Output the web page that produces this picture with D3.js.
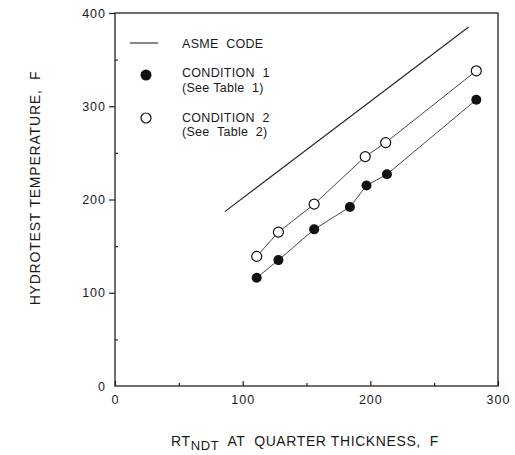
<!DOCTYPE html>
<html>
<head>
<meta charset="utf-8">
<script src="https://cdn.jsdelivr.net/npm/d3@7"></script>
<style>
  body { margin: 0; background: #fff; }
  text { font-family: "Liberation Sans", Arial, sans-serif; fill: #1a1a1a; white-space: pre; }
</style>
</head>
<body>
<svg id="canvas" width="515" height="455"></svg>
<script>
/********** Data **********/
var xTicks = [0, 100, 200, 300];
var yTicks = [0, 100, 200, 300, 400];
var xMinor = [50, 150, 250];
var yMinor = [50, 150, 250, 350];

var asmeX = [86, 277];
var asmeY = [187, 385];

var cond1X = [111, 128, 156, 184, 197, 213, 283];
var cond1Y = [116, 135, 168, 192, 215, 227, 307];

var cond2X = [111, 128, 156, 196, 212, 283];
var cond2Y = [139, 165, 195, 246, 261, 338];

var legendLabels = ["ASME  CODE", "CONDITION  1", "(See Table  1)", "CONDITION  2", "(See  Table  2)"];

/********** Setup **********/
var svg = d3.select("#canvas");
var x = d3.scaleLinear().domain([0, 300]).range([115, 498]);
var y = d3.scaleLinear().domain([0, 400]).range([386, 13]);

function pts(xs, ys) { return xs.map(function(v, i) { return [v, ys[i]]; }); }
var line = d3.line().x(function(d) { return x(d[0]); }).y(function(d) { return y(d[1]); });

/********** Frame and axes **********/
svg.append("rect")
    .attr("x", x(0)).attr("y", y(400))
    .attr("width", x(300) - x(0)).attr("height", y(0) - y(400))
    .attr("fill", "none").attr("stroke", "#222").attr("stroke-width", 1.3);

var gx = svg.append("g").attr("transform", "translate(0," + y(0) + ")")
    .call(d3.axisBottom(x).tickValues(xTicks).tickSize(-5).tickPadding(9));
var gxm = svg.append("g").attr("transform", "translate(0," + y(0) + ")")
    .call(d3.axisBottom(x).tickValues(xMinor).tickSize(-3).tickFormat(""));
var gy = svg.append("g").attr("transform", "translate(" + x(0) + ",0)")
    .call(d3.axisLeft(y).tickValues(yTicks).tickSize(6).tickPadding(3));
var gym = svg.append("g").attr("transform", "translate(" + x(0) + ",0)")
    .call(d3.axisLeft(y).tickValues(yMinor).tickSize(-3).tickFormat(""));

[gx, gxm, gy, gym].forEach(function(g) {
    g.select(".domain").remove();
    g.selectAll("line").attr("stroke", "#222").attr("stroke-width", 1.2);
    g.selectAll("text").attr("font-size", 12.5).attr("letter-spacing", "1px")
        .attr("fill", "#1a1a1a").style("font-family", "'Liberation Sans', Arial, sans-serif");
});
gy.selectAll(".tick").filter(function(d) { return d === 0; }).select("line").remove();

/********** Series **********/
var plot = svg.append("g");
plot.append("path").datum(pts(asmeX, asmeY)).attr("d", line)
    .attr("fill", "none").attr("stroke", "#222").attr("stroke-width", 1.1);
plot.append("path").datum(pts(cond2X, cond2Y)).attr("d", line)
    .attr("fill", "none").attr("stroke", "#333").attr("stroke-width", 0.9);
plot.append("path").datum(pts(cond1X, cond1Y)).attr("d", line)
    .attr("fill", "none").attr("stroke", "#333").attr("stroke-width", 0.9);

plot.selectAll("circle.c2").data(pts(cond2X, cond2Y)).enter().append("circle")
    .attr("class", "c2")
    .attr("cx", function(d) { return x(d[0]); }).attr("cy", function(d) { return y(d[1]); })
    .attr("r", 5).attr("fill", "#fff").attr("stroke", "#111").attr("stroke-width", 1.2);
plot.selectAll("circle.c1").data(pts(cond1X, cond1Y)).enter().append("circle")
    .attr("class", "c1")
    .attr("cx", function(d) { return x(d[0]); }).attr("cy", function(d) { return y(d[1]); })
    .attr("r", 5).attr("fill", "#111");

/********** Legend **********/
var lg = svg.append("g");
lg.append("line").attr("x1", 130).attr("x2", 158).attr("y1", 43).attr("y2", 43)
    .attr("stroke", "#222").attr("stroke-width", 1.1);
lg.append("circle").attr("cx", 146).attr("cy", 75).attr("r", 5.5).attr("fill", "#111");
lg.append("circle").attr("cx", 146).attr("cy", 118).attr("r", 5).attr("fill", "#fff")
    .attr("stroke", "#111").attr("stroke-width", 1.2);
var legendY = [48, 77, 92, 122, 136];
lg.selectAll("text").data(legendLabels).enter().append("text")
    .attr("x", 182).attr("y", function(d, i) { return legendY[i]; })
    .attr("font-size", 12.5).attr("letter-spacing", "0.3px")
    .text(function(d) { return d; });

/********** Axis titles **********/
var xt = svg.append("text").attr("x", 305).attr("y", 446)
    .attr("text-anchor", "middle").attr("font-size", 14).attr("letter-spacing", "0.6px");
xt.append("tspan").text("RT");
xt.append("tspan").attr("dy", 4).attr("font-size", 13).text("NDT");
xt.append("tspan").attr("dy", -4).text("  AT  QUARTER THICKNESS,  F");

svg.append("text")
    .attr("transform", "translate(40,188) rotate(-90)")
    .attr("text-anchor", "middle").attr("font-size", 14).attr("letter-spacing", "0.8px")
    .text("HYDROTEST TEMPERATURE,  F");
</script>
</body>
</html>
